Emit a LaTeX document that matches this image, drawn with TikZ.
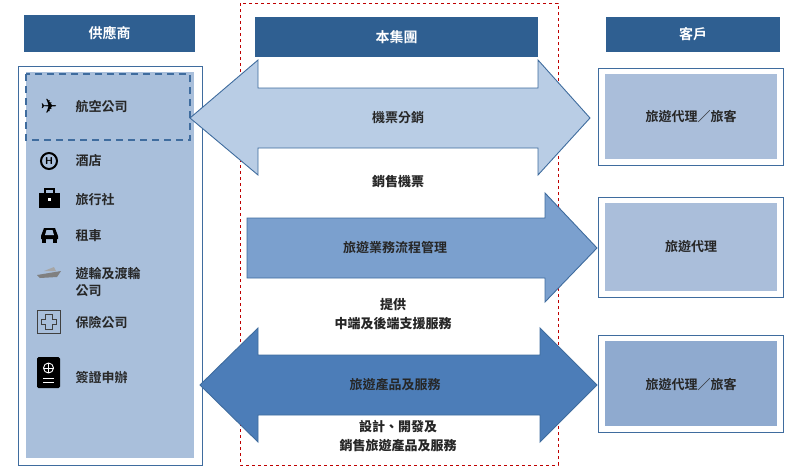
\documentclass[tikz,border=0pt]{standalone}
\usepackage{fontspec}
\newfontfamily\cjk{Noto Sans CJK TC}[BoldFont={* Bold}]
\newfontfamily\symb{DejaVu Sans}
\usetikzlibrary{shapes.arrows}
\definecolor{headblue}{HTML}{2F5F91}
\definecolor{panelblue}{HTML}{A9BFDB}
\definecolor{lightarrow}{HTML}{B9CDE5}
\definecolor{midarrow}{HTML}{7BA0CE}
\definecolor{darkarrow}{HTML}{4C7DB8}
\definecolor{edgeblue}{HTML}{3F6C9E}
\definecolor{custblue}{HTML}{AABEDA}
\definecolor{custdark}{HTML}{8FAACF}
\definecolor{textgray}{HTML}{262626}
\begin{document}
\begin{tikzpicture}[
    x=1pt, y=-1pt,
    header/.style={
        fill=headblue,
        text=white,
        font=\cjk\bfseries\fontsize{14}{16}\selectfont,
        inner sep=0pt
    },
    label/.style={
        text=textgray,
        font=\cjk\bfseries\fontsize{13}{17}\selectfont,
        align=center
    },
    slant/.style={
        label,
        font=\cjk\bfseries\itshape\fontsize{13}{19}\selectfont
    },
    item/.style={
        label,
        anchor=west,
        align=left
    },
    arrowline/.style={
        draw=edgeblue,
        line width=0.9pt
    },
    panel/.style={
        draw=edgeblue,
        line width=0.8pt,
        fill=white
    }
]
\useasboundingbox (0,0) rectangle (800,474);

% Headers
\node[header, minimum width=171pt, minimum height=37pt] (supplier) at (109.5,33.5) {供應商};
\node[header, minimum width=283pt, minimum height=40pt] (group) at (396.5,37) {本集團};
\node[header, minimum width=174pt, minimum height=35pt] (customer) at (693,34.5) {客戶};

% Group frame
\draw[red!75!black, dashed, line width=0.9pt] (240,3) rectangle (558,465);

% Supplier panel
\draw[panel] (18,66) rectangle (202,465);
\fill[panelblue] (26,72) rectangle (194,458);
\draw[edgeblue, dashed, line width=1.6pt, dash pattern=on 7pt off 5pt] (26,74) rectangle (190,140);

% Customer panels
\draw[panel] (598,68) rectangle (783,165);
\fill[custblue] (605,74) rectangle (777,159);
\draw[panel] (598,197) rectangle (783,297);
\fill[custblue] (605,203) rectangle (777,291);
\draw[panel] (598,335) rectangle (783,432);
\fill[custdark] (605,341) rectangle (777,426);

% Arrows
\draw[arrowline, fill=lightarrow]
    (190,118) -- (258,60) -- (258,88) -- (538,88) -- (538,60) -- (590,118)
    -- (538,175) -- (538,148) -- (258,148) -- (258,175) -- cycle;
\draw[arrowline, fill=midarrow]
    (247,218) -- (545,218) -- (545,193) -- (597,248) -- (545,302)
    -- (545,278) -- (247,278) -- cycle;
\draw[arrowline, fill=darkarrow]
    (200,385) -- (258,328) -- (258,355) -- (540,355) -- (540,328) -- (597,385)
    -- (540,442) -- (540,415) -- (258,415) -- (258,442) -- cycle;

% Arrow labels
\node[label] (sales) at (398,118) {機票分銷};
\node[slant] (ticket) at (398,182) {銷售機票};
\node[label] (process) at (395,248) {旅遊業務流程管理};
\node[slant] (support) at (393,314) {提供\\中端及後端支援服務};
\node[label] (product) at (395,385) {旅遊產品及服務};
\node[slant] (design) at (398,436) {設計、開發及\\銷售旅遊產品及服務};

% Customer labels
\node[label] (agentA) at (691,116) {旅遊代理／旅客};
\node[label] (agentB) at (691,247) {旅遊代理};
\node[label] (agentC) at (691,384) {旅遊代理／旅客};

% Supplier items
\node[item] (airline) at (72,107) {航空公司};
\node[item] (hotel) at (72,161) {酒店};
\node[item] (agency) at (72,200) {旅行社};
\node[item] (car) at (72,236) {租車};
\node[item] (cruise) at (72,282) {遊輪及渡輪\\公司};
\node[item] (insure) at (72,322) {保險公司};
\node[item] (visa) at (72,378) {簽證申辦};

% Icons
\node[text=black, font=\symb\fontsize{20}{20}\selectfont] (plane) at (49,106) {✈};
\draw[black, line width=2pt] (49,161) circle (8);
\node[font=\sffamily\bfseries\fontsize{10}{10}\selectfont] (hicon) at (49,161) {H};
\fill[black] (39,193) rectangle (60,208);
\draw[black, line width=1.5pt] (45,193) -- (45,189) -- (54,189) -- (54,193);
\fill[white] (48,198) rectangle (51,201);
\fill[black] (41,239) rectangle (58,236) -- (55,228) -- (44,228) -- (41,236);
\fill[panelblue] (45,235) -- (46.5,230) -- (52.5,230) -- (54,235) -- cycle;
\fill[black] (42,239) rectangle (46,243);
\fill[black] (53,239) rectangle (57,243);
\fill[gray] (37,275) -- (61,271) -- (57,277) -- (40,278) -- cycle;
\fill[gray!70] (44,271) -- (54,267) -- (56,271) -- cycle;
\draw[gray!50!black, line width=0.8pt] (37,310) rectangle (60,333);
\draw[gray!50!black, line width=0.8pt] (45,314) -- (52,314) -- (52,319) -- (56,319) -- (56,324)
    -- (52,324) -- (52,329) -- (45,329) -- (45,324) -- (41,324) -- (41,319) -- (45,319) -- cycle;
\fill[black, rounded corners=1.5pt] (37,357) rectangle (60,388);
\draw[white, line width=0.9pt] (48.5,368) circle (5);
\draw[white, line width=0.7pt] (43.5,368) -- (53.5,368) (48.5,363) -- (48.5,373);
\draw[white, line width=1pt] (43,378) -- (54,378) (43,382) -- (54,382);
\end{tikzpicture}
\end{document}
